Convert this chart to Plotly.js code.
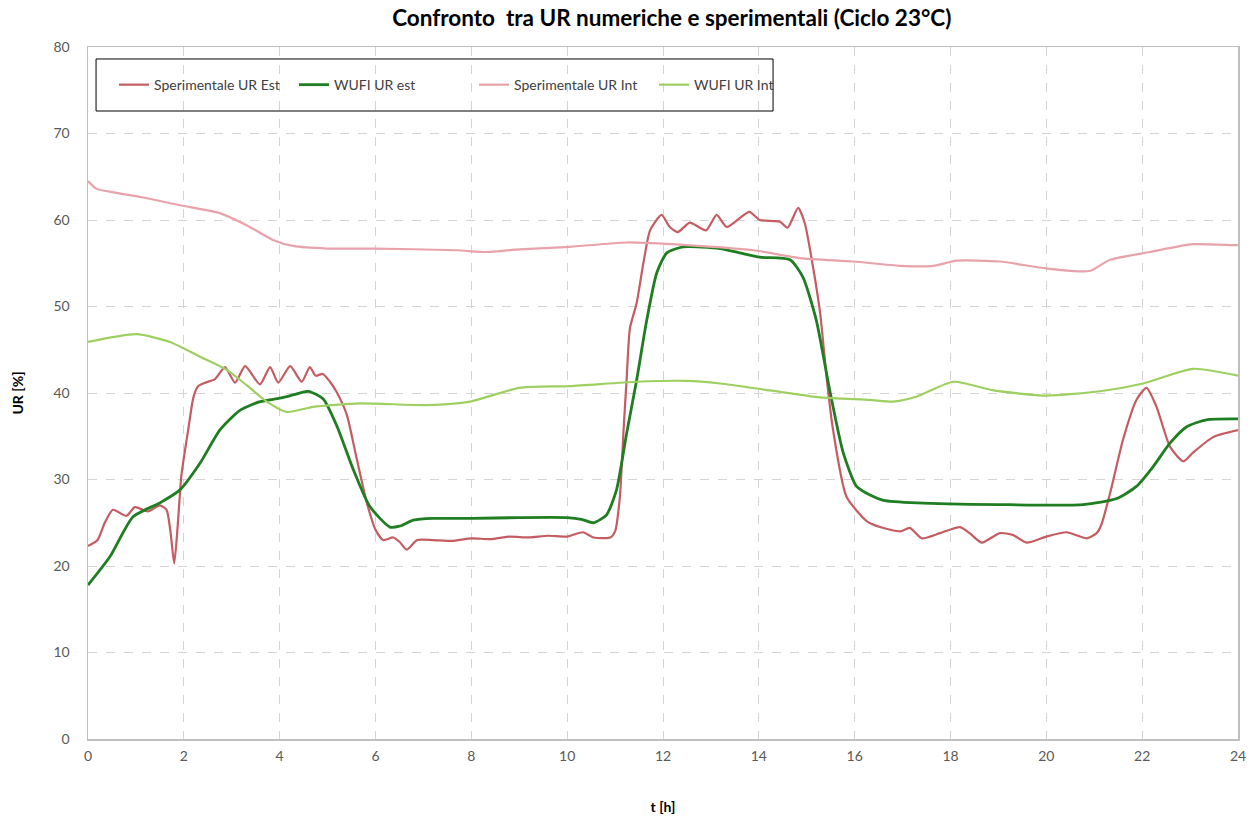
<!DOCTYPE html>
<html>
<head>
<meta charset="utf-8">
<script src="https://cdn.plot.ly/plotly-3.0.1.min.js"></script>
<style>html,body{margin:0;padding:0;background:#fff;}#chart{width:1258px;height:821px;}</style>
</head>
<body>
<div id="chart"></div>
<script>
// ---- Data ----
const seriesNames = ["Sperimentale UR Est", "WUFI UR est", "Sperimentale UR Int", "WUFI UR Int"];

const sperEstT = [0,0.2,0.35,0.52,0.8,0.98,1.25,1.5,1.64,1.72,1.8,1.87,1.95,2.09,2.2,2.3,2.45,2.65,2.86,3.07,3.28,3.59,3.8,3.97,4.22,4.46,4.63,4.75,4.9,5.05,5.2,5.4,5.6,5.82,6.0,6.16,6.37,6.5,6.65,6.87,7.2,7.6,8.0,8.4,8.8,9.2,9.6,10.0,10.33,10.55,10.9,11.0,11.1,11.18,11.24,11.31,11.45,11.59,11.73,11.97,12.14,12.31,12.56,12.9,13.12,13.33,13.8,14.02,14.44,14.6,14.82,14.96,15.13,15.28,15.42,15.55,15.83,16.25,16.53,16.95,17.15,17.4,17.78,18.2,18.4,18.65,19.03,19.3,19.59,20.0,20.42,20.84,21.05,21.15,21.33,21.6,21.88,22.09,22.3,22.58,22.86,23.06,23.48,24];
const sperEstV = [22.3,23.0,25.0,26.5,25.8,26.8,26.3,27.0,26.5,24.0,20.3,24.5,30.5,35.7,39.5,40.8,41.2,41.6,43.0,41.2,43.1,41.0,43.0,41.2,43.1,41.3,43.0,42.0,42.2,41.3,40.0,37.5,32.6,27.3,24.2,23.0,23.3,22.8,21.9,23.0,23.0,22.9,23.2,23.1,23.4,23.3,23.5,23.4,23.9,23.3,23.3,24.0,28.0,36.0,41.5,47.5,50.4,55.0,58.8,60.6,59.2,58.6,59.7,58.8,60.6,59.2,60.95,60.0,59.8,59.1,61.4,59.6,54.6,49.2,41.5,35.7,28.0,25.2,24.5,24.0,24.4,23.2,23.8,24.5,23.8,22.7,23.8,23.6,22.7,23.4,23.9,23.2,23.8,24.8,28.4,34.6,39.2,40.6,38.4,33.8,32.1,33.1,34.9,35.7];

const wufiEstT = [0,0.46,0.94,1.5,1.92,2.34,2.75,3.17,3.59,4.0,4.3,4.6,4.91,5.2,5.54,5.88,6.3,6.5,6.79,7.2,8,9,10,10.3,10.55,10.82,11.03,11.24,11.45,11.66,11.87,12.08,12.42,13.19,13.6,14.02,14.65,14.92,15.2,15.48,15.76,16.04,16.32,16.6,17.3,19,20.77,21.47,21.88,22.23,22.58,22.93,23.34,24];
const wufiEstV = [17.8,21.1,25.7,27.3,28.8,31.9,35.7,38.0,39.0,39.4,39.8,40.2,39.3,36.1,31.1,26.9,24.5,24.6,25.3,25.5,25.5,25.6,25.6,25.4,25.0,25.9,28.8,35.3,41.5,48.4,53.9,56.2,56.9,56.7,56.2,55.7,55.4,53.4,48.4,40.3,33.1,29.2,28.2,27.6,27.3,27.1,27.1,27.8,29.2,31.5,34.2,36.1,36.9,37.0];

const sperIntT = [0,0.18,0.53,1.15,1.92,2.75,3.31,3.86,4.28,4.98,5.95,7.69,8.32,9.0,10.06,11.24,12.49,13.88,14.86,15.97,16.95,17.64,18.13,19.03,20.0,20.9,21.33,22.16,23.06,23.9,24];
const sperIntV = [64.5,63.6,63.2,62.6,61.7,60.8,59.4,57.7,57.0,56.7,56.7,56.5,56.3,56.6,56.9,57.4,57.1,56.5,55.6,55.2,54.7,54.7,55.3,55.2,54.4,54.1,55.4,56.3,57.2,57.1,57.1];

const wufiIntT = [0,1.01,1.71,2.34,2.89,3.31,3.73,4.15,4.7,5.68,7.07,7.97,9.0,10.06,11.45,12.49,13.19,14.23,15.28,16.32,16.8,17.3,18.06,18.9,20.0,21.12,22.02,23.06,24];
const wufiIntV = [45.9,46.8,45.9,44.2,42.7,40.9,39.0,37.8,38.4,38.8,38.6,39.0,40.6,40.8,41.3,41.4,41.1,40.3,39.5,39.2,39.0,39.6,41.3,40.3,39.7,40.2,41.1,42.8,42.0];

const xTicks = [0,2,4,6,8,10,12,14,16,18,20,22,24];
const yTicks = [0,10,20,30,40,50,60,70,80];

const titleText = "Confronto  tra UR numeriche e sperimentali (Ciclo 23°C)";
const xTitle = "t [h]";
const yTitle = "UR [%]";

// ---- Chart ----
const FONT = "Lato, 'Open Sans', sans-serif";
function tr(x, y, name, color, width) {
  return {x: x, y: y, name: name, type: "scatter", mode: "lines",
          line: {color: color, width: width, shape: "spline", smoothing: 0.6}};
}
const traces = [
  tr(sperEstT, sperEstV, seriesNames[0], "#c45c62", 2.2),
  tr(wufiEstT, wufiEstV, seriesNames[1], "#1f7d22", 2.8),
  tr(sperIntT, sperIntV, seriesNames[2], "#e8a3aa", 2.2),
  tr(wufiIntT, wufiIntV, seriesNames[3], "#9dd061", 2.2)
];

const layout = {
  width: 1258, height: 821,
  paper_bgcolor: "#ffffff", plot_bgcolor: "#ffffff",
  margin: {l: 88, r: 20, t: 47, b: 82},
  font: {family: FONT, color: "#595959", size: 14},
  title: {text: titleText, x: 0.534, xref: "container", y: 0.978, yanchor: "middle",
          font: {family: FONT, size: 22.5, color: "#000000", weight: "bold"}},
  xaxis: {range: [0, 24], tickvals: xTicks, ticktext: xTicks.map(String),
          showgrid: true, gridcolor: "#d4d4d4", griddash: "dash", gridwidth: 1,
          showline: true, linecolor: "#bfbfbf", linewidth: 1.5, mirror: true,
          zeroline: false, ticks: "", fixedrange: true, ticklabelstandoff: 4,
          tickfont: {family: FONT, size: 14, color: "#595959"},
          title: {text: xTitle, standoff: 39, font: {family: FONT, size: 14, color: "#000000", weight: "bold"}}},
  yaxis: {range: [0, 80], tickvals: yTicks, ticktext: yTicks.map(String),
          showgrid: true, gridcolor: "#d4d4d4", griddash: "dash", gridwidth: 1,
          showline: true, linecolor: "#bfbfbf", linewidth: 1.5, mirror: true,
          zeroline: false, ticks: "", fixedrange: true, ticklabelstandoff: 14,
          tickfont: {family: FONT, size: 14, color: "#595959"},
          title: {text: yTitle, standoff: 26, font: {family: FONT, size: 14, color: "#000000", weight: "bold"}}},
  showlegend: true,
  legend: {orientation: "h", x: 0.0226, xanchor: "left", y: 0.945, yanchor: "middle",
           bgcolor: "rgba(0,0,0,0)", borderwidth: 0, entrywidth: 135, entrywidthmode: "pixels",
           font: {family: FONT, size: 14, color: "#404040"}, itemwidth: 30},
  shapes: [{type: "rect", xref: "paper", yref: "paper",
            x0: 0.007, x1: 0.5957, y0: 0.9075, y1: 0.9827,
            line: {color: "#000000", width: 1}, fillcolor: "rgba(0,0,0,0)", layer: "above"}]
};

Plotly.newPlot("chart", traces, layout, {displayModeBar: false, staticPlot: true});
</script>
</body>
</html>
